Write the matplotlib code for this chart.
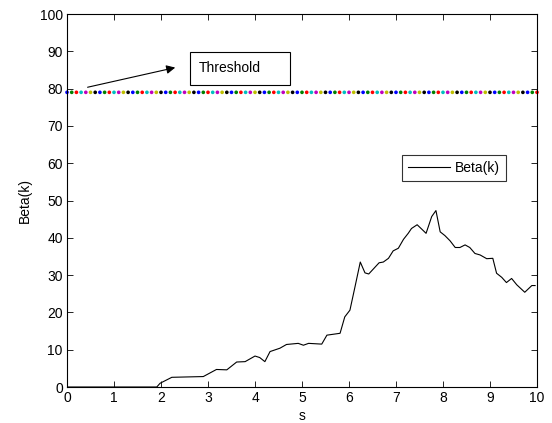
import matplotlib
matplotlib.use("Agg")
import matplotlib.pyplot as plt
from matplotlib.patches import Rectangle
import numpy as np

plt.rcParams["font.family"] = ["Liberation Sans", "DejaVu Sans"]
plt.rcParams["font.size"] = 10

# Beta(k) curve
beta_x = [0.0, 1.91, 1.98, 2.23, 2.9, 3.18, 3.4, 3.61, 3.79, 4.0, 4.1, 4.21, 4.32,
          4.53, 4.67, 4.92, 5.03, 5.14, 5.42, 5.53, 5.81, 5.91, 6.02, 6.13, 6.24,
          6.34, 6.42, 6.64, 6.73, 6.84, 6.94, 7.05, 7.16, 7.26, 7.33, 7.45, 7.55,
          7.64, 7.76, 7.85, 7.94, 8.04, 8.15, 8.26, 8.36, 8.47, 8.57, 8.68, 8.79,
          8.93, 9.06, 9.14, 9.25, 9.35, 9.46, 9.57, 9.74, 9.89, 9.96]
beta_y = [0.0, 0.0, 1.0, 2.6, 2.8, 4.7, 4.6, 6.7, 6.8, 8.3, 7.9, 6.8, 9.5,
          10.4, 11.4, 11.7, 11.2, 11.7, 11.5, 13.9, 14.4, 18.8, 20.6, 27.0, 33.5,
          30.6, 30.3, 33.3, 33.5, 34.5, 36.5, 37.2, 39.6, 41.2, 42.5, 43.5, 42.3,
          41.2, 45.7, 47.3, 41.6, 40.6, 39.2, 37.4, 37.4, 38.1, 37.4, 35.8, 35.4,
          34.4, 34.5, 30.5, 29.4, 28.0, 29.1, 27.4, 25.4, 27.2, 27.2]

threshold = 79
thr_x = np.arange(0, 10.01, 0.1)
dot_colors = ["b", "g", "r", "c", "m", "y", "k"]

fig = plt.figure(figsize=(5.52, 4.23), dpi=100)
ax = fig.add_axes([0.1214, 0.0851, 0.8514, 0.8818])

cols = [dot_colors[i % len(dot_colors)] for i in range(len(thr_x))]
ax.scatter(thr_x, [threshold] * len(thr_x), c=cols, s=7, marker="o", linewidths=0,
           zorder=2, clip_on=False)

ax.plot(beta_x, beta_y, color="black", linewidth=0.8, label="Beta(k)", zorder=3)

# threshold annotation
ax.annotate("", xy=(2.36, 85.8), xytext=(0.38, 80.2),
            arrowprops=dict(arrowstyle="-|>", color="black", lw=0.8, mutation_scale=13))
ax.add_patch(Rectangle((2.62, 81.0), 2.12, 8.8, fc="white", ec="black", lw=0.8, zorder=4))
ax.text(2.8, 85.4, "Threshold", ha="left", va="center", zorder=5)

leg = ax.legend(loc="upper left", bbox_to_anchor=(0.712, 0.622), handlelength=3.0,
                handletextpad=0.4, frameon=True, fancybox=False, borderpad=0.45,
                borderaxespad=0)
leg.get_frame().set_edgecolor("black")
leg.get_frame().set_linewidth(0.8)

ax.set_xlim(0, 10)
ax.set_ylim(0, 100)
ax.set_xticks(range(0, 11))
ax.set_yticks(range(0, 101, 10))
ax.tick_params(direction="in", top=True, right=True, length=4, width=0.6, pad=3)
for s in ax.spines.values():
    s.set_linewidth(0.8)
ax.set_xlabel("s", labelpad=3)
ax.set_ylabel("Beta(k)", labelpad=6)

fig.savefig("out.png", dpi=100)
